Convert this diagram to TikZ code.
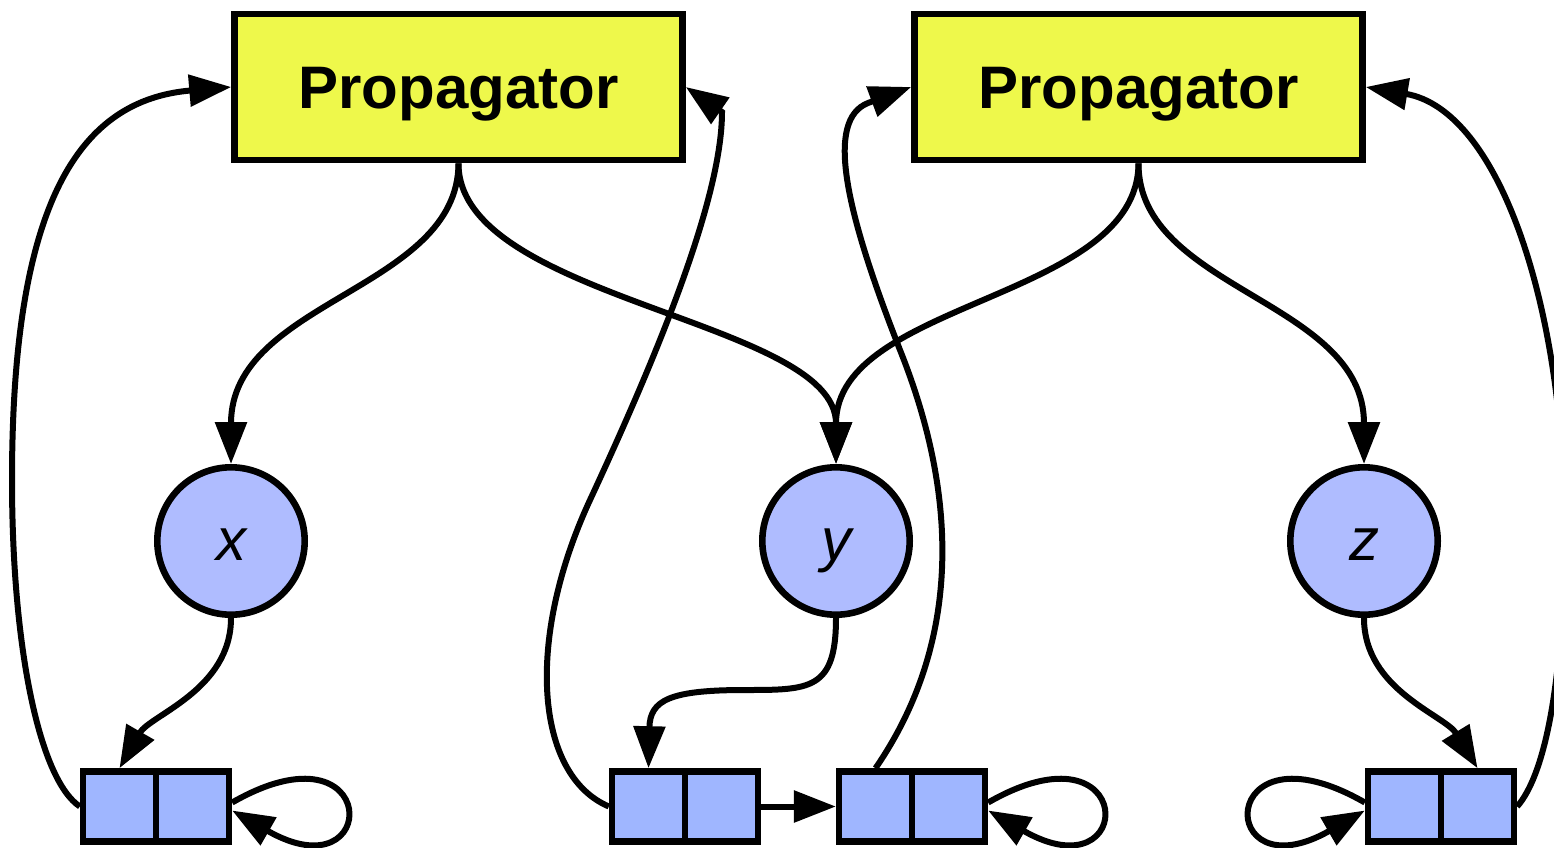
\documentclass[tikz,border=0pt]{standalone}
\usepackage{fontspec}
\setmainfont{Liberation Sans}
\usetikzlibrary{arrows.meta}
\definecolor{propfill}{HTML}{EEF84B}
\definecolor{varfill}{HTML}{AFBCFF}
\definecolor{cellfill}{HTML}{9FB6FF}
\tikzset{
  prop/.style={draw, line width=3.3pt, fill=propfill, minimum width=224pt,
    minimum height=73pt, inner sep=0pt,
    font=\bfseries\fontsize{30}{36}\selectfont, text height=21pt, text depth=0pt},
  var/.style={circle, draw, line width=3.3pt, fill=varfill, minimum size=73.7pt,
    inner sep=0pt, font=\itshape\fontsize{30}{36}\selectfont,
    text height=19pt, text depth=0pt},
  cell/.style={draw, line width=3.3pt, fill=cellfill, minimum width=36.35pt,
    minimum height=35pt, inner sep=0pt},
  link/.style={line width=3pt, -{Triangle[length=21pt,width=15.5pt]}},
}
\begin{document}
\begin{tikzpicture}[x=0.5pt,y=-0.5pt]
\useasboundingbox (0,0) rectangle (1554,847);
\clip (0,0) rectangle (1554,847);

% propagators
\node[prop] (p1) at (458.5,87) {Propagator};
\node[prop] (p2) at (1138.5,87) {Propagator};

% variables
\node[var] (x) at (231,541) {x};
\node[var] (y) at (836,541) {y};
\node[var] (z) at (1364,541) {z};

% two-cell records
\node[cell] (cA1) at (119.5,806.5) {};
\node[cell] (cA2) at (192.5,806.5) {};
\node[cell] (cB1) at (648.5,806.5) {};
\node[cell] (cB2) at (721.5,806.5) {};
\node[cell] (cC1) at (875.5,806.5) {};
\node[cell] (cC2) at (948.5,806.5) {};
\node[cell] (cD1) at (1404.5,806.5) {};
\node[cell] (cD2) at (1477.5,806.5) {};

% propagators to variables
\draw[link] (p1.south) .. controls (458,290) and (231,300) .. (x.north);
\draw[link] (p1.south) .. controls (458,300) and (836,320) .. (y.north);
\draw[link] (p2.south) .. controls (1138,300) and (836,300) .. (y.north);
\draw[link] (p2.south) .. controls (1138,290) and (1364,300) .. (z.north);

% variables to records
\draw[link] (x.south) .. controls (231,690) and (150,715) .. (cA1.north);
\draw[link] (y.south) .. controls (836,690) and (810,690) .. (745,690)
  .. controls (670,690) and (650,700) .. (cB1.north);
\draw[link] (z.south) .. controls (1364,690) and (1445,715) .. (cD2.north);

% record chain
\draw[link] (cB2.east) -- (cC1.west);

% self loops
\draw[link] ([yshift=2pt]cA2.east) .. controls +(150,-86) and +(150,86) .. ([yshift=-2pt]cA2.east);
\draw[link] ([yshift=2pt]cC2.east) .. controls +(150,-86) and +(150,86) .. ([yshift=-2pt]cC2.east);
\draw[link] ([yshift=2pt]cD1.west) .. controls +(-150,-86) and +(-150,86) .. ([yshift=-2pt]cD1.west);

% records back to propagators
\draw[link] (cA1.west) .. controls (40,780) and (12,650) .. (12,480)
  .. controls (12,200) and (80,100) .. (p1.west);
\draw[link] (cB1.west) .. controls (535,775) and (525,640) .. (590,500)
  .. controls (655,360) and (722,200) .. (722,112) -- (p1.east);
\draw[link] (cC1.north) .. controls (950,660) and (968,520) .. (900,350)
  .. controls (845,210) and (825,120) .. (868,103) -- (p2.west);
\draw[link] (cD2.east) .. controls (1545,775) and (1565,680) .. (1564,520)
  .. controls (1564,310) and (1500,110) .. (p2.east);
\end{tikzpicture}
\end{document}
